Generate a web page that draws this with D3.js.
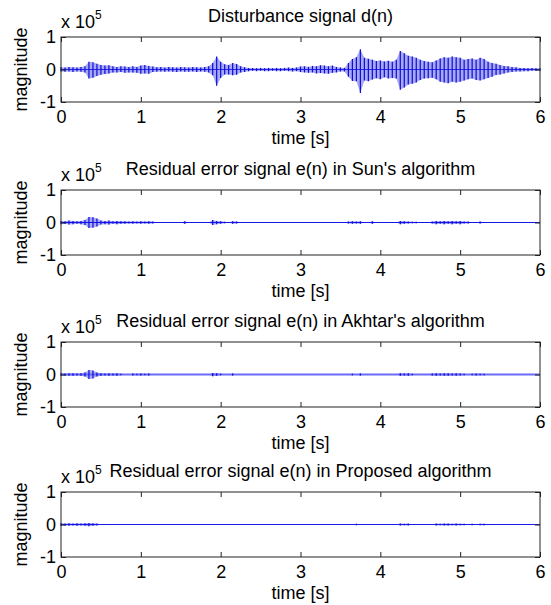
<!DOCTYPE html>
<html>
<head>
<meta charset="utf-8">
<script src="https://cdn.jsdelivr.net/npm/d3@7"></script>
<style>
  html, body { margin: 0; padding: 0; background: #fff; }
  svg { display: block; }
  text { font-family: "Liberation Sans", Arial, sans-serif; fill: #000; }
</style>
</head>
<body>
<svg id="chart" width="551" height="605"></svg>
<script>
// ---------- DATA (values in units of 1e5) ----------
const xTicks = [0, 1, 2, 3, 4, 5, 6];
const xTickLabels = ["0", "1", "2", "3", "4", "5", "6"];
const yTicks = [-1, 0, 1];
const yTickLabels = ["-1", "0", "1"];
const titles = [
  "Disturbance signal d(n)",
  "Residual error signal e(n) in Sun's algorithm",
  "Residual error signal e(n) in Akhtar's algorithm",
  "Residual error signal e(n) in Proposed algorithm"
];
// sample times, 0.05 s apart (0 ... 6 s)
const time = d3.range(121).map(i => +(i * 0.05).toFixed(2));

// Disturbance d(n): positive and negative envelope peaks
const dHigh = [
  0.07,0.06,0.08,0.07,0.06,0.08,0.10,0.24,0.22,0.18,
  0.14,0.12,0.13,0.10,0.08,0.10,0.09,0.08,0.10,0.08,
  0.12,0.14,0.11,0.09,0.07,0.08,0.06,0.08,0.07,0.06,
  0.08,0.07,0.06,0.08,0.07,0.06,0.08,0.10,0.20,0.40,
  0.24,0.16,0.14,0.20,0.17,0.10,0.07,0.05,0.05,0.04,
  0.05,0.04,0.05,0.04,0.05,0.04,0.05,0.06,0.05,0.06,
  0.09,0.10,0.08,0.11,0.10,0.13,0.12,0.10,0.12,0.08,
  0.06,0.05,0.20,0.32,0.38,0.62,0.36,0.33,0.30,0.26,
  0.28,0.25,0.27,0.24,0.30,0.57,0.50,0.42,0.40,0.36,
  0.30,0.26,0.24,0.22,0.28,0.34,0.38,0.36,0.40,0.38,
  0.36,0.30,0.32,0.34,0.30,0.36,0.32,0.24,0.20,0.18,
  0.14,0.11,0.10,0.08,0.07,0.05,0.05,0.04,0.05,0.04,
  0.04
];
const dLow = [
  -0.06,-0.07,-0.06,-0.08,-0.06,-0.07,-0.09,-0.28,-0.25,-0.20,
  -0.16,-0.14,-0.12,-0.09,-0.09,-0.08,-0.10,-0.09,-0.09,-0.10,
  -0.13,-0.12,-0.13,-0.08,-0.07,-0.06,-0.07,-0.06,-0.07,-0.08,
  -0.06,-0.07,-0.07,-0.06,-0.08,-0.06,-0.07,-0.09,-0.18,-0.50,
  -0.26,-0.15,-0.15,-0.18,-0.16,-0.09,-0.08,-0.05,-0.04,-0.05,
  -0.04,-0.05,-0.05,-0.04,-0.05,-0.05,-0.04,-0.05,-0.06,-0.05,
  -0.08,-0.09,-0.10,-0.09,-0.12,-0.11,-0.12,-0.13,-0.10,-0.09,
  -0.06,-0.06,-0.22,-0.35,-0.36,-0.72,-0.34,-0.36,-0.31,-0.27,
  -0.30,-0.24,-0.28,-0.26,-0.28,-0.62,-0.55,-0.46,-0.44,-0.40,
  -0.32,-0.28,-0.27,-0.25,-0.30,-0.38,-0.40,-0.42,-0.38,-0.40,
  -0.38,-0.34,-0.30,-0.28,-0.32,-0.34,-0.30,-0.26,-0.22,-0.17,
  -0.15,-0.12,-0.09,-0.08,-0.06,-0.06,-0.05,-0.05,-0.04,-0.04,
  -0.04
];
// Residual errors: symmetric peak amplitude per sample
const sunAmp = [
  0.05,0.04,0.06,0.05,0.04,0.05,0.08,0.17,0.16,0.12,
  0.06,0.05,0.06,0.04,0.05,0.04,0.04,0.03,0.04,0.03,
  0.04,0.03,0.04,0.03,0,0,0,0,0,0,
  0,0.04,0,0,0,0,0,0,0.08,0.05,
  0.04,0.02,0,0.04,0.03,0,0,0,0,0,
  0,0,0,0,0,0,0,0,0,0,
  0,0,0,0,0,0,0,0,0,0,
  0,0,0.03,0.04,0.03,0.04,0,0,0.04,0,
  0,0,0,0,0,0.05,0.04,0.03,0.02,0.02,
  0,0,0,0.03,0.05,0.04,0.05,0.04,0.05,0.04,
  0.05,0.03,0.03,0,0,0.03,0,0,0,0,
  0,0,0,0,0,0,0,0,0,0,
  0
];
const akhtarAmp = [
  0.04,0.03,0.04,0.04,0.03,0.04,0.06,0.14,0.12,0.06,
  0.04,0.03,0.04,0.03,0.04,0.02,0,0,0.03,0.02,
  0.03,0.02,0.03,0,0,0,0,0,0,0,
  0,0,0,0,0,0,0,0,0.05,0.04,
  0.02,0,0,0.03,0,0,0,0,0,0,
  0,0,0,0,0,0,0,0,0,0,
  0,0,0,0,0,0,0,0,0,0,
  0,0,0,0.02,0,0.03,0,0,0,0,
  0,0,0,0,0,0.04,0.03,0.04,0.02,0,
  0,0,0,0.03,0.04,0.03,0.04,0.04,0.03,0.04,
  0.03,0.02,0,0.02,0.03,0.02,0.02,0,0,0,
  0,0,0,0,0,0,0,0,0,0,
  0
];
const proposedAmp = [
  0.04,0.03,0.04,0.03,0.04,0.03,0.04,0.05,0.04,0.03,
  0,0,0,0,0,0,0,0,0,0,
  0,0,0,0,0,0,0,0,0,0,
  0,0,0,0,0,0,0,0,0,0,
  0,0,0,0,0,0,0,0,0,0,
  0,0,0,0,0,0,0,0,0,0,
  0,0,0,0,0,0,0,0,0,0,
  0,0,0,0,0.02,0,0,0,0,0,
  0,0,0,0,0,0.03,0.02,0.03,0,0,
  0,0,0,0,0.03,0.02,0.03,0.03,0.02,0.03,
  0.02,0.02,0,0.02,0,0.02,0.02,0,0,0,
  0,0,0,0,0,0,0,0,0,0,
  0
];

const panels = [
  { title: titles[0], hi: dHigh, lo: dLow, base: { c: "#2a2ae8", w: 1.2 } },
  { title: titles[1], hi: sunAmp, lo: sunAmp.map(v => -v), base: { c: "#1515f0", w: 1.1 } },
  { title: titles[2], hi: akhtarAmp, lo: akhtarAmp.map(v => -v), base: { c: "#6b6bf5", w: 1.8 } },
  { title: titles[3], hi: proposedAmp, lo: proposedAmp.map(v => -v), base: { c: "#1a1af0", w: 1.1 } }
];

// ---------- LAYOUT ----------
const svg = d3.select("#chart");
const left = 61, right = 540, plotH = 65;
const tops = [37, 190, 342, 492];
const x = d3.scaleLinear().domain([0, 6]).range([left, right]);
const FS = 18;

panels.forEach((p, k) => {
  const top = tops[k], bottom = top + plotH;
  const y = d3.scaleLinear().domain([-1, 1]).range([bottom, top]);
  const g = svg.append("g");
  const pts = time.map((t, i) => ({ t, hi: p.hi[i], lo: p.lo[i] }));

  // envelope fill
  g.append("path")
    .datum(pts)
    .attr("fill", "rgba(30,30,220,0.38)")
    .attr("d", d3.area().x(d => x(d.t)).y0(d => y(d.lo)).y1(d => y(d.hi)));

  // base line of the signal
  g.append("path")
    .datum(time)
    .attr("fill", "none")
    .attr("stroke", p.base.c)
    .attr("stroke-width", p.base.w)
    .attr("d", d3.line().x(t => x(t)).y(() => y(0)));

  // oscillation stripes
  g.selectAll("line.s")
    .data(pts.filter(d => d.hi - d.lo > 0))
    .join("line")
    .attr("x1", d => x(d.t)).attr("x2", d => x(d.t))
    .attr("y1", d => y(d.hi)).attr("y2", d => y(d.lo))
    .attr("stroke", "#0c0cdc")
    .attr("stroke-width", 1.2);

  // frame
  g.append("rect")
    .attr("x", left).attr("y", top)
    .attr("width", right - left).attr("height", plotH)
    .attr("fill", "none").attr("stroke", "#222").attr("stroke-width", 1);

  // axes with inward ticks
  const ax = g.append("g").attr("transform", `translate(0,${bottom})`)
    .call(d3.axisBottom(x).tickValues(xTicks).tickFormat((d, i) => xTickLabels[i]).tickSize(-5).tickPadding(8));
  const axT = g.append("g").attr("transform", `translate(0,${top})`)
    .call(d3.axisTop(x).tickValues(xTicks).tickFormat("").tickSize(-5));
  const ay = g.append("g").attr("transform", `translate(${left},0)`)
    .call(d3.axisLeft(y).tickValues(yTicks).tickFormat((d, i) => yTickLabels[i]).tickSize(-5).tickPadding(5));
  const ayR = g.append("g").attr("transform", `translate(${right},0)`)
    .call(d3.axisRight(y).tickValues(yTicks).tickFormat("").tickSize(-5));
  [ax, axT, ay, ayR].forEach(a => {
    a.select(".domain").remove();
    a.selectAll("line").attr("stroke", "#222");
    a.selectAll("text").attr("font-size", FS).attr("font-family", "Liberation Sans, Arial, sans-serif").attr("fill", "#000");
  });

  // title
  g.append("text")
    .attr("x", (left + right) / 2).attr("y", top - 15)
    .attr("text-anchor", "middle").attr("font-size", FS)
    .text(p.title);

  // exponent label
  const ex = g.append("text").attr("x", left).attr("y", top - 9).attr("font-size", FS);
  ex.append("tspan").text("x 10");
  ex.append("tspan").attr("font-size", 12).attr("dy", -9).text("5");

  // x label
  g.append("text")
    .attr("x", (left + right) / 2).attr("y", bottom + 42)
    .attr("text-anchor", "middle").attr("font-size", FS)
    .text("time [s]");

  // y label
  g.append("text")
    .attr("transform", `translate(27,${(top + bottom) / 2}) rotate(-90)`)
    .attr("text-anchor", "middle").attr("font-size", FS)
    .text("magnitude");
});
</script>
</body>
</html>
